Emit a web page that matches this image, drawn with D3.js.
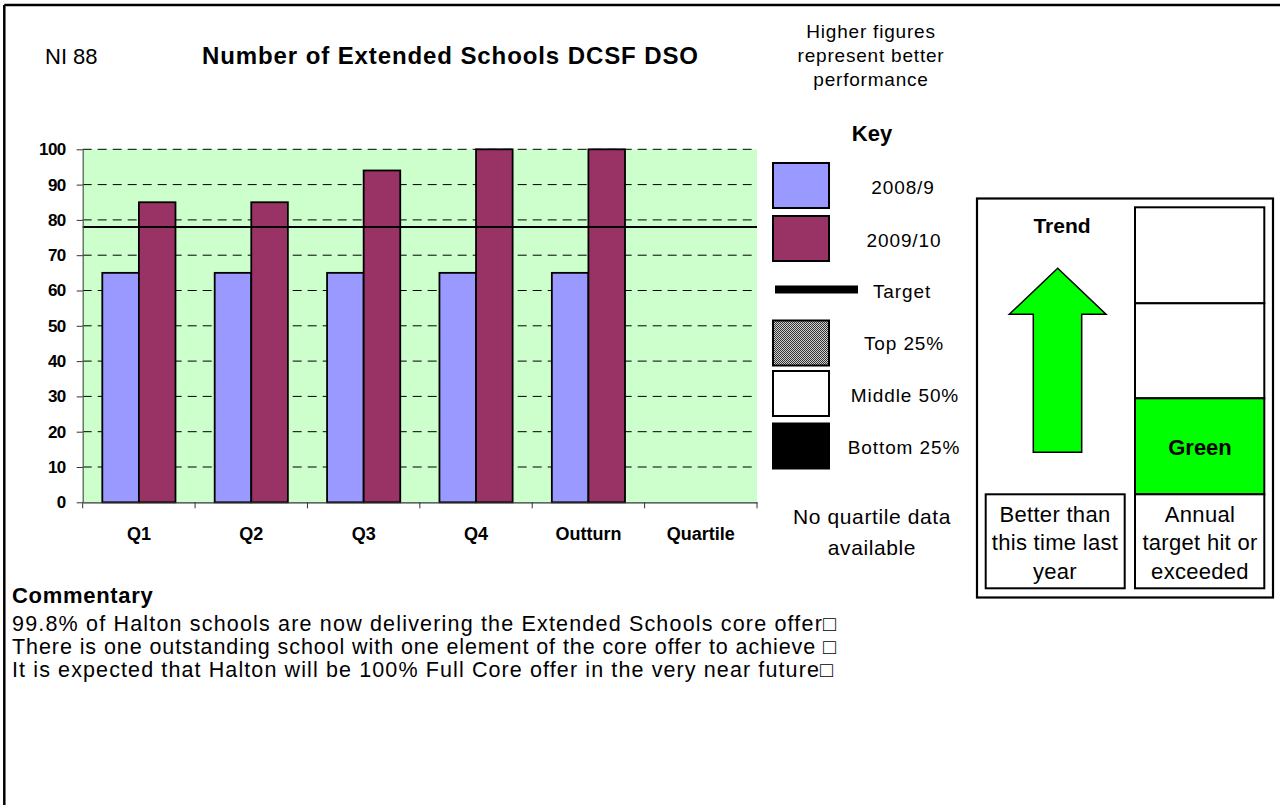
<!DOCTYPE html>
<html><head><meta charset="utf-8">
<script src="https://cdn.jsdelivr.net/npm/d3@7"></script>
<style>
body{margin:0;background:#fff}
svg text{font-family:"Liberation Sans",Arial,sans-serif;fill:#000}
</style></head>
<body><svg id="c" width="1280" height="805"></svg>
<script>
// ---------- data ----------
const categories = ["Q1", "Q2", "Q3", "Q4", "Outturn", "Quartile"];
const series = ["2008/9", "2009/10"];
const values2008 = [65, 65, 65, 65, 65, null];
const values2009 = [85, 85, 94, 100, 100, null];
const targetValue = 78;
const yTicks = [0, 10, 20, 30, 40, 50, 60, 70, 80, 90, 100];
const legendLabels = ["2008/9", "2009/10", "Target", "Top 25%", "Middle 50%", "Bottom 25%"];
const headerLines = ["Higher figures", "represent better", "performance"];
const trendLines = ["Better than", "this time last", "year"];
const targetLines = ["Annual", "target hit or", "exceeded"];
const commentaryLines = [
  "99.8% of Halton schools are now delivering the Extended Schools core offer\u25A1",
  "There is one outstanding school with one element of the core offer to achieve \u25A1",
  "It is expected that Halton will be 100% Full Core offer in the very near future\u25A1"
];

const colors = {"2008/9": "#9999FF", "2009/10": "#993366"};
const svg = d3.select("#c");

// defs: pattern for Top 25%
const defs = svg.append("defs");
const pat = defs.append("pattern").attr("id", "dots").attr("width", 2).attr("height", 2)
  .attr("patternUnits", "userSpaceOnUse");
pat.append("rect").attr("width", 2).attr("height", 2).attr("fill", "#d0d0d0");
pat.append("rect").attr("width", 1).attr("height", 1).attr("fill", "#333");
pat.append("rect").attr("x", 1).attr("y", 1).attr("width", 1).attr("height", 1).attr("fill", "#333");

// outer frame
svg.append("line").attr("x1", 4.3).attr("x2", 1280).attr("y1", 5).attr("y2", 5).attr("stroke", "#000").attr("stroke-width", 2.5);
svg.append("line").attr("x1", 4.3).attr("x2", 4.3).attr("y1", 5).attr("y2", 805).attr("stroke", "#000").attr("stroke-width", 2.5);

// header
svg.append("text").attr("x", 45).attr("y", 64).style("font-size", "22px").text("NI 88");
svg.append("text").attr("x", 202).attr("y", 64).style("font-size", "24px").style("font-weight", "bold")
  .style("letter-spacing", "0.9px").text("Number of Extended Schools DCSF DSO");
svg.selectAll("text.hdr").data(headerLines).join("text").attr("class", "hdr")
  .attr("x", 871).attr("y", (d, i) => 38 + i * 24).attr("text-anchor", "middle")
  .style("font-size", "19px").style("letter-spacing", "0.8px").text(d => d);

// ---------- chart ----------
const plot = {left: 82.7, right: 757, top: 149.3, bottom: 502.3};
const y = d3.scaleLinear().domain([0, 100]).range([plot.bottom, plot.top]);
const x0 = d3.scaleBand().domain(categories).range([plot.left, plot.right]).paddingInner(0).paddingOuter(0);
const x1 = d3.scaleBand().domain(series).range([0, x0.bandwidth()]).paddingInner(0).paddingOuter(0.536);

svg.append("rect").attr("x", plot.left).attr("y", plot.top)
  .attr("width", plot.right - plot.left).attr("height", plot.bottom - plot.top).attr("fill", "#CCFFCC");

// gridlines
svg.append("g").selectAll("line").data(yTicks.filter(d => d > 0)).join("line")
  .attr("x1", plot.left).attr("x2", plot.right).attr("y1", d => y(d)).attr("y2", d => y(d))
  .attr("stroke", "#000").attr("stroke-width", 1).attr("stroke-dasharray", "9,6");

// bars
const rows = categories.map((c, i) => ({cat: c, vals: [
  {s: series[0], v: values2008[i]}, {s: series[1], v: values2009[i]}]}));
const g = svg.append("g").selectAll("g").data(rows).join("g")
  .attr("transform", d => `translate(${x0(d.cat)},0)`);
g.selectAll("rect").data(d => d.vals.filter(e => e.v != null)).join("rect")
  .attr("x", d => x1(d.s)).attr("width", x1.bandwidth())
  .attr("y", d => y(d.v)).attr("height", d => y(0) - y(d.v))
  .attr("fill", d => colors[d.s]).attr("stroke", "#000").attr("stroke-width", 1.8);

// target line
svg.append("line").attr("x1", plot.left).attr("x2", plot.right)
  .attr("y1", y(targetValue)).attr("y2", y(targetValue)).attr("stroke", "#000").attr("stroke-width", 2);

// y axis
const yAxis = svg.append("g").attr("transform", `translate(${plot.left},0)`)
  .call(d3.axisLeft(y).tickValues(yTicks).tickSize(6).tickPadding(11).tickSizeOuter(0));
yAxis.select(".domain").attr("stroke", "#555").attr("stroke-width", 1.2);
yAxis.selectAll(".tick line").attr("stroke", "#333");
yAxis.selectAll("text").style("font-size", "17px").style("font-weight", "bold")
  .style("letter-spacing", "-0.6px").style("font-family", '"Liberation Sans",Arial,sans-serif');

// x axis
const xAxis = svg.append("g").attr("transform", `translate(0,${plot.bottom})`)
  .call(d3.axisBottom(x0).tickSize(0).tickPadding(25).tickSizeOuter(0));
xAxis.select(".domain").attr("stroke", "#333").attr("stroke-width", 1.2);
xAxis.selectAll("text").style("font-size", "18px").style("font-weight", "bold")
  .style("font-family", '"Liberation Sans",Arial,sans-serif');
const bounds = categories.map(c => x0(c)).concat([plot.right]);
svg.append("g").selectAll("line").data(bounds).join("line")
  .attr("x1", d => d).attr("x2", d => d).attr("y1", plot.bottom).attr("y2", plot.bottom + 6)
  .attr("stroke", "#333").attr("stroke-width", 1);

// ---------- key ----------
svg.append("text").attr("x", 872).attr("y", 141).attr("text-anchor", "middle")
  .style("font-size", "22px").style("font-weight", "bold").text("Key");
const keyBoxes = [
  {y: 163, fill: colors["2008/9"]},
  {y: 216, fill: colors["2009/10"]},
  null,
  {y: 320.5, fill: "url(#dots)"},
  {y: 371, fill: "#fff"},
  {y: 423.5, fill: "#000"}
];
keyBoxes.forEach(b => {
  if (!b) return;
  svg.append("rect").attr("x", 773).attr("y", b.y).attr("width", 56).attr("height", 45)
    .attr("fill", b.fill).attr("stroke", "#000").attr("stroke-width", 2);
});
svg.append("line").attr("x1", 775).attr("x2", 858).attr("y1", 289.5).attr("y2", 289.5)
  .attr("stroke", "#000").attr("stroke-width", 8);
const legendY = [194, 246.5, 298, 350, 401.5, 454];
const legendX = [903, 904, 902, 904, 905, 904];
svg.selectAll("text.leg").data(legendLabels).join("text").attr("class", "leg")
  .attr("x", (d, i) => legendX[i]).attr("y", (d, i) => legendY[i]).attr("text-anchor", "middle")
  .style("font-size", "19px").style("letter-spacing", "0.9px").text(d => d);
svg.selectAll("text.nq").data(["No quartile data", "available"]).join("text").attr("class", "nq")
  .attr("x", 872).attr("y", (d, i) => 524 + i * 31).attr("text-anchor", "middle")
  .style("font-size", "21px").style("letter-spacing", "0.6px").text(d => d);

// ---------- right panel ----------
svg.append("rect").attr("x", 977).attr("y", 198.5).attr("width", 296).attr("height", 399)
  .attr("fill", "#fff").attr("stroke", "#000").attr("stroke-width", 2.2);
svg.append("text").attr("x", 1062).attr("y", 233).attr("text-anchor", "middle")
  .style("font-size", "21px").style("font-weight", "bold").text("Trend");
const arrowPts = [[1057.7, 268.3], [1106, 314.3], [1081.7, 314.3], [1081.7, 452.3],
  [1033.3, 452.3], [1033.3, 314.3], [1009.3, 314.3]];
svg.append("polygon").attr("points", arrowPts.map(p => p.join(",")).join(" "))
  .attr("fill", "#00FF00").attr("stroke", "#000").attr("stroke-width", 1.5);
const colBoxes = [
  {y: 207.3, h: 96, fill: "#fff"},
  {y: 303.3, h: 95, fill: "#fff"},
  {y: 398.3, h: 96, fill: "#00FF00"},
  {y: 494.3, h: 94, fill: "#fff"}
];
colBoxes.forEach(b => svg.append("rect").attr("x", 1135).attr("y", b.y).attr("width", 129.3).attr("height", b.h)
  .attr("fill", b.fill).attr("stroke", "#000").attr("stroke-width", 2));
svg.append("rect").attr("x", 985.7).attr("y", 494.3).attr("width", 139).attr("height", 94)
  .attr("fill", "#fff").attr("stroke", "#000").attr("stroke-width", 2);
svg.append("text").attr("x", 1200).attr("y", 455).attr("text-anchor", "middle")
  .style("font-size", "22px").style("font-weight", "bold").text("Green");
svg.selectAll("text.tr").data(trendLines).join("text").attr("class", "tr")
  .attr("x", 1055).attr("y", (d, i) => 521.5 + i * 28.5).attr("text-anchor", "middle")
  .style("font-size", "22px").style("letter-spacing", "0.3px").text(d => d);
svg.selectAll("text.tg").data(targetLines).join("text").attr("class", "tg")
  .attr("x", 1200).attr("y", (d, i) => 521.5 + i * 28.5).attr("text-anchor", "middle")
  .style("font-size", "22px").style("letter-spacing", "0.3px").text(d => d);

// ---------- commentary ----------
svg.append("text").attr("x", 12).attr("y", 603).style("font-size", "22px").style("font-weight", "bold")
  .style("letter-spacing", "0.7px").text("Commentary");
const cmLengths = [824, 824, 821];
svg.selectAll("text.cm").data(commentaryLines).join("text").attr("class", "cm")
  .attr("x", 12).attr("y", (d, i) => 631 + i * 23).style("font-size", "21.5px")
  .attr("textLength", (d, i) => cmLengths[i]).attr("lengthAdjust", "spacing").text(d => d);
</script></body></html>
